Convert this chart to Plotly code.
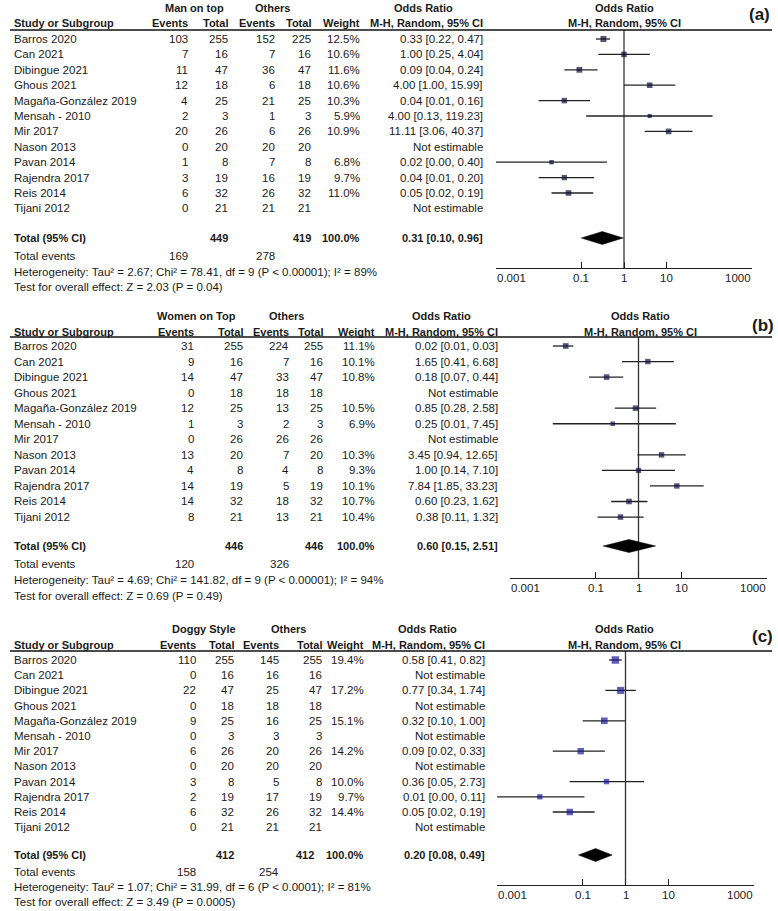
import math
import plotly.graph_objects as go

W, H = 778, 911
FONT = "Arial, 'Liberation Sans', sans-serif"
TXT = "#1a1a1a"

# ---------------- data ----------------
studies = ["Barros 2020", "Can 2021", "Dibingue 2021", "Ghous 2021",
           "Magaña-González 2019", "Mensah - 2010", "Mir 2017", "Nason 2013",
           "Pavan 2014", "Rajendra 2017", "Reis 2014", "Tijani 2012"]

tick_vals = [0.001, 0.1, 1, 10, 1000]
tick_text = ["0.001", "0.1", "1", "10", "1000"]

# (a) Man on top
a_ev1 = [103, 7, 11, 12, 4, 2, 20, 0, 1, 3, 6, 0]
a_tot1 = [255, 16, 47, 18, 25, 3, 26, 20, 8, 19, 32, 21]
a_ev2 = [152, 7, 36, 6, 21, 1, 6, 20, 7, 16, 26, 21]
a_tot2 = [225, 16, 47, 18, 25, 3, 26, 20, 8, 19, 32, 21]
a_wt = [12.5, 10.6, 11.6, 10.6, 10.3, 5.9, 10.9, None, 6.8, 9.7, 11.0, None]
a_or = [0.33, 1.00, 0.09, 4.00, 0.04, 4.00, 11.11, None, 0.02, 0.04, 0.05, None]
a_lo = [0.22, 0.25, 0.04, 1.00, 0.01, 0.13, 3.06, None, 0.00, 0.01, 0.02, None]
a_hi = [0.47, 4.04, 0.24, 15.99, 0.16, 119.23, 40.37, None, 0.40, 0.20, 0.19, None]
a_total = dict(t1=449, t2=419, or_=0.31, lo=0.10, hi=0.96, e1=169, e2=278)
a_het = "Heterogeneity: Tau² = 2.67; Chi² = 78.41, df = 9 (P < 0.00001); I² = 89%"
a_test = "Test for overall effect: Z = 2.03 (P = 0.04)"

# (b) Women on Top
b_ev1 = [31, 9, 14, 0, 12, 1, 0, 13, 4, 14, 14, 8]
b_tot1 = [255, 16, 47, 18, 25, 3, 26, 20, 8, 19, 32, 21]
b_ev2 = [224, 7, 33, 18, 13, 2, 26, 7, 4, 5, 18, 13]
b_tot2 = [255, 16, 47, 18, 25, 3, 26, 20, 8, 19, 32, 21]
b_wt = [11.1, 10.1, 10.8, None, 10.5, 6.9, None, 10.3, 9.3, 10.1, 10.7, 10.4]
b_or = [0.02, 1.65, 0.18, None, 0.85, 0.25, None, 3.45, 1.00, 7.84, 0.60, 0.38]
b_lo = [0.01, 0.41, 0.07, None, 0.28, 0.01, None, 0.94, 0.14, 1.85, 0.23, 0.11]
b_hi = [0.03, 6.68, 0.44, None, 2.58, 7.45, None, 12.65, 7.10, 33.23, 1.62, 1.32]
b_total = dict(t1=446, t2=446, or_=0.60, lo=0.15, hi=2.51, e1=120, e2=326)
b_het = "Heterogeneity: Tau² = 4.69; Chi² = 141.82, df = 9 (P < 0.00001); I² = 94%"
b_test = "Test for overall effect: Z = 0.69 (P = 0.49)"

# (c) Doggy Style
c_ev1 = [110, 0, 22, 0, 9, 0, 6, 0, 3, 2, 6, 0]
c_tot1 = [255, 16, 47, 18, 25, 3, 26, 20, 8, 19, 32, 21]
c_ev2 = [145, 16, 25, 18, 16, 3, 20, 20, 5, 17, 26, 21]
c_tot2 = [255, 16, 47, 18, 25, 3, 26, 20, 8, 19, 32, 21]
c_wt = [19.4, None, 17.2, None, 15.1, None, 14.2, None, 10.0, 9.7, 14.4, None]
c_or = [0.58, None, 0.77, None, 0.32, None, 0.09, None, 0.36, 0.01, 0.05, None]
c_lo = [0.41, None, 0.34, None, 0.10, None, 0.02, None, 0.05, 0.00, 0.02, None]
c_hi = [0.82, None, 1.74, None, 1.00, None, 0.33, None, 2.73, 0.11, 0.19, None]
c_total = dict(t1=412, t2=412, or_=0.20, lo=0.08, hi=0.49, e1=158, e2=254)
c_het = "Heterogeneity: Tau² = 1.07; Chi² = 31.99, df = 6 (P < 0.0001); I² = 81%"
c_test = "Test for overall effect: Z = 3.49 (P = 0.0005)"

panels = [
    dict(label="(a)", group="Man on top", ev1=a_ev1, tot1=a_tot1, ev2=a_ev2, tot2=a_tot2,
         wt=a_wt, or_=a_or, lo=a_lo, hi=a_hi, total=a_total, het=a_het, test=a_test),
    dict(label="(b)", group="Women on Top", ev1=b_ev1, tot1=b_tot1, ev2=b_ev2, tot2=b_tot2,
         wt=b_wt, or_=b_or, lo=b_lo, hi=b_hi, total=b_total, het=b_het, test=b_test),
    dict(label="(c)", group="Doggy Style", ev1=c_ev1, tot1=c_tot1, ev2=c_ev2, tot2=c_tot2,
         wt=c_wt, or_=c_or, lo=c_lo, hi=c_hi, total=c_total, het=c_het, test=c_test),
]

# ---------------- geometry (pixels) ----------------
geoms = [
    dict(h1=8, h2=23, line=30, row0=39, step=15.4, tot=238, tev=256, het=272, test=287,
         axis=268, px0=496, px1=752, c_ev1=190, c_tot1=230, c_ev2=277, c_tot2=313,
         c_tot2T=313, c_wt=362, c_or=485, g1=195, g2=272, g_or=424, g_plot=624,
         lab=(759, 15), mcol="#0c0c38"),
    dict(h1=316, h2=332, line=337, row0=346, step=15.55, tot=546, tev=564, het=580, test=596,
         axis=578, px0=510, px1=767, c_ev1=196, c_tot1=245, c_ev2=291, c_tot2=325,
         c_tot2T=325, c_wt=377, c_or=500, g1=196, g2=286, g_or=441, g_plot=640,
         lab=(763, 326), mcol="#0e0e48"),
    dict(h1=629, h2=645, line=651, row0=660, step=15.2, tot=855, tev=872, het=887, test=902,
         axis=885, px0=497, px1=754, c_ev1=198, c_tot1=236, c_ev2=281, c_tot2=324,
         c_tot2T=316, c_wt=366, c_or=487, g1=204, g2=288, g_or=427, g_plot=624,
         lab=(762, 636), mcol="#1a1a9a"),
]


def px(x):
    return x / W


def py(y):
    return 1 - y / H


fig = go.Figure()
ann = []
shapes = []


def txt(x, y, s, anchor="right", bold=False, size=11.5):
    ann.append(dict(x=px(x), y=py(y), xref="paper", yref="paper",
                    text=(f"<b>{s}</b>" if bold else s),
                    showarrow=False, xanchor=anchor, yanchor="middle",
                    font=dict(family=FONT, size=size, color=TXT)))


layout_axes = {}
for i, (p, g) in enumerate(zip(panels, geoms)):
    n = i + 2
    xa, ya = f"x{n}", f"y{n}"
    # headers
    txt(g["g1"], g["h1"], p["group"], "center", True, 11)
    txt(g["g2"], g["h1"], "Others", "center", True, 11)
    txt(g["g_or"], g["h1"], "Odds Ratio", "center", True, 11)
    txt(g["g_plot"], g["h1"], "Odds Ratio", "center", True, 11)
    txt(12, g["h2"], "Study or Subgroup", "left", True, 11)
    txt(g["c_ev1"], g["h2"], "Events", "right", True, 11)
    txt(g["c_tot1"], g["h2"], "Total", "right", True, 11)
    txt(g["c_ev2"], g["h2"], "Events", "right", True, 11)
    txt(g["c_tot2"], g["h2"], "Total", "right", True, 11)
    txt(g["c_wt"], g["h2"], "Weight", "right", True, 11)
    txt(g["c_or"], g["h2"], "M-H, Random, 95% CI", "right", True, 11)
    txt(g["g_plot"], g["h2"], "M-H, Random, 95% CI", "center", True, 11)
    txt(g["lab"][0], g["lab"][1], p["label"], "center", True, 17)
    shapes.append(dict(type="line", xref="paper", yref="paper", x0=px(10), x1=px(772),
                       y0=py(g["line"]), y1=py(g["line"]),
                       line=dict(color="#111", width=1.3)))

    lx, ly, mx, my, ms = [], [], [], [], []
    for k, s in enumerate(studies):
        yr = g["row0"] + g["step"] * k
        txt(12, yr, s, "left")
        txt(g["c_ev1"], yr, str(p["ev1"][k]))
        txt(g["c_tot1"], yr, str(p["tot1"][k]))
        txt(g["c_ev2"], yr, str(p["ev2"][k]))
        txt(g["c_tot2"], yr, str(p["tot2"][k]))
        if p["or_"][k] is None:
            txt(g["c_or"], yr, "Not estimable")
            continue
        txt(g["c_wt"], yr, f"{p['wt'][k]:.1f}%")
        txt(g["c_or"], yr, f"{p['or_'][k]:.2f} [{p['lo'][k]:.2f}, {p['hi'][k]:.2f}]")
        lx += [max(p["lo"][k], 0.001), min(p["hi"][k], 1000), None]
        ly += [yr, yr, None]
        mx.append(p["or_"][k])
        my.append(yr)
        ms.append(1.7 * math.sqrt(p["wt"][k]))

    t = p["total"]
    txt(12, g["tot"], "Total (95% CI)", "left", True, 11)
    txt(g["c_tot1"], g["tot"], str(t["t1"]), "right", True, 11)
    txt(g["c_tot2T"], g["tot"], str(t["t2"]), "right", True, 11)
    txt(g["c_wt"], g["tot"], "100.0%", "right", True, 11)
    txt(g["c_or"], g["tot"], f"{t['or_']:.2f} [{t['lo']:.2f}, {t['hi']:.2f}]", "right", True, 11)
    txt(12, g["tev"], "Total events", "left")
    txt(g["c_ev1"], g["tev"], str(t["e1"]))
    txt(g["c_ev2"], g["tev"], str(t["e2"]))
    txt(12, g["het"], p["het"], "left")
    txt(12, g["test"], p["test"], "left")

    # tick labels: end labels aligned inwards like RevMan
    for j, (tv, tt) in enumerate(zip(tick_vals, tick_text)):
        anc = "left" if j == 0 else ("right" if j == len(tick_vals) - 1 else "center")
        ann.append(dict(x=math.log10(tv), y=py(g["axis"] + 10), xref=xa, yref="paper",
                        text=tt, showarrow=False, xanchor=anc, yanchor="middle",
                        borderpad=0,
                        font=dict(family=FONT, size=11.5, color=TXT)))

    # null line
    fig.add_trace(go.Scatter(x=[1, 1], y=[g["line"], g["axis"]], xaxis=xa, yaxis=ya,
                             mode="lines", line=dict(color="#333", width=1.3),
                             hoverinfo="skip", showlegend=False, cliponaxis=False))
    # CIs
    fig.add_trace(go.Scatter(x=lx, y=ly, xaxis=xa, yaxis=ya, mode="lines",
                             line=dict(color="#222", width=1.3), hoverinfo="skip",
                             showlegend=False))
    # squares
    fig.add_trace(go.Scatter(x=mx, y=my, xaxis=xa, yaxis=ya, mode="markers",
                             marker=dict(symbol="square", size=ms, color=g["mcol"],
                                         line=dict(width=0)),
                             hoverinfo="skip", showlegend=False))
    # diamond
    dh = 6.5
    fig.add_trace(go.Scatter(x=[t["lo"], t["or_"], t["hi"], t["or_"], t["lo"]],
                             y=[g["tot"], g["tot"] - dh, g["tot"], g["tot"] + dh, g["tot"]],
                             xaxis=xa, yaxis=ya, mode="lines", fill="toself",
                             fillcolor="#000", line=dict(color="#000", width=0.5),
                             hoverinfo="skip", showlegend=False))

    layout_axes[f"xaxis{n}"] = dict(
        type="log", range=[-3, 3], domain=[px(g["px0"]), px(g["px1"])],
        anchor=ya, showline=True, linecolor="#222",
        linewidth=1.3, ticks="inside", ticklen=6, tickwidth=1.3, tickcolor="#222",
        tickmode="array", tickvals=tick_vals, showticklabels=False, showgrid=False,
        zeroline=False, fixedrange=True, automargin=False)
    layout_axes[f"yaxis{n}"] = dict(
        range=[g["axis"], g["line"]], domain=[py(g["axis"]), py(g["line"])],
        anchor=xa, visible=False, fixedrange=True, automargin=False)

fig.update_layout(
    width=W, height=H, margin=dict(l=0, r=0, t=0, b=0, pad=0, autoexpand=False),
    paper_bgcolor="white", plot_bgcolor="white", showlegend=False,
    xaxis=dict(visible=False), yaxis=dict(visible=False),
    annotations=ann, shapes=shapes, **layout_axes,
)

fig.write_html("out.html", config={"displayModeBar": False},
               post_script="document.body.style.margin='0';document.body.style.overflow='hidden';")
